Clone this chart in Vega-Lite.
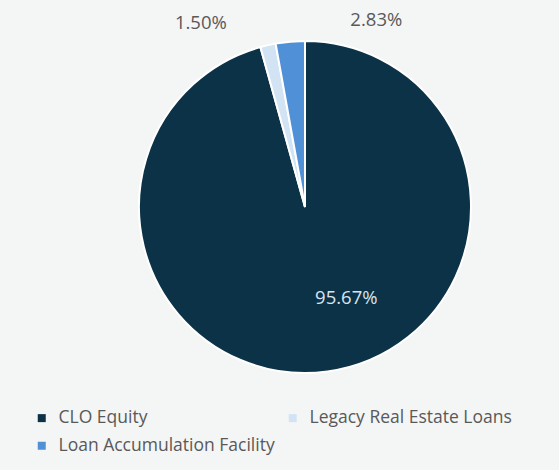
{
  "$schema": "https://vega.github.io/schema/vega-lite/v6.json",
  "autosize": "none",
  "width": 332,
  "height": 332,
  "padding": {"left": 139, "top": 41, "right": 88, "bottom": 97},
  "background": "#f4f5f5",
  "config": {"view": {"stroke": null}, "font": "Open Sans"},
  "data": {
    "values": [
      {"category": "CLO Equity", "value": 95.67, "label": "95.67%", "order": 1},
      {"category": "Legacy Real Estate Loans", "value": 1.50, "label": "1.50%", "order": 2},
      {"category": "Loan Accumulation Facility", "value": 2.83, "label": "2.83%", "order": 3}
    ]
  },
  "encoding": {
    "theta": {"field": "value", "type": "quantitative", "stack": true},
    "order": {"field": "order", "type": "quantitative"}
  },
  "layer": [
    {
      "mark": {"type": "arc", "outerRadius": 166, "stroke": "#ffffff", "strokeWidth": 2},
      "encoding": {
        "color": {
          "field": "category",
          "type": "nominal",
          "sort": ["CLO Equity", "Legacy Real Estate Loans", "Loan Accumulation Facility"],
          "scale": {
            "domain": ["CLO Equity", "Legacy Real Estate Loans", "Loan Accumulation Facility"],
            "range": ["#0b3247", "#d2e4f4", "#4f90d6"]
          },
          "legend": {
            "title": null,
            "orient": "none",
            "direction": "horizontal",
            "legendX": -106,
            "legendY": 368,
            "columns": 2,
            "columnPadding": 9,
            "rowPadding": 9,
            "symbolType": "square",
            "symbolSize": 64,
            "symbolStrokeWidth": 0,
            "labelFontSize": 17.5,
            "labelColor": "#595959",
            "labelOffset": 8,
            "labelLimit": 300
          }
        }
      }
    },
    {
      "mark": {"type": "text", "radius": 98, "dx": 28, "dy": -6, "fontSize": 18.5, "color": "#d9e4ee"},
      "encoding": {"text": {"condition": {"test": "datum.category === 'CLO Equity'", "field": "label"}, "value": ""}}
    },
    {
      "mark": {"type": "text", "radius": 189, "dx": -62, "dy": 0, "fontSize": 18.5, "color": "#595959"},
      "encoding": {"text": {"condition": {"test": "datum.category === 'Legacy Real Estate Loans'", "field": "label"}, "value": ""}}
    },
    {
      "mark": {"type": "text", "radius": 188, "dx": 88, "dy": 0, "fontSize": 18.5, "color": "#595959"},
      "encoding": {"text": {"condition": {"test": "datum.category === 'Loan Accumulation Facility'", "field": "label"}, "value": ""}}
    }
  ]
}
